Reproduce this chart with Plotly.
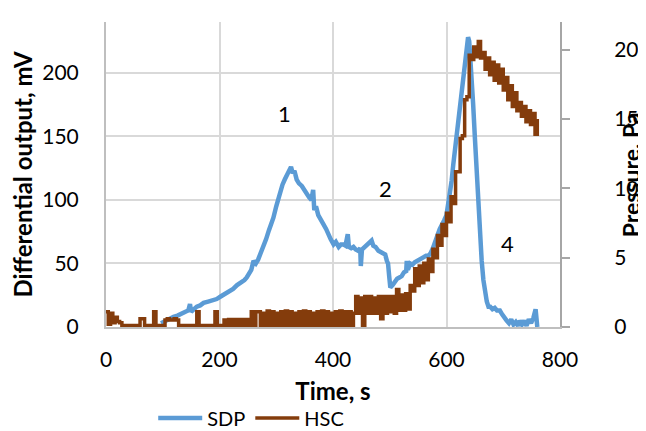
import plotly.graph_objects as go

# ---- data ----
sdp_t = [97, 105, 112, 119, 126, 133, 140, 145, 148, 150, 155, 160, 166, 172, 180, 188, 195,
         202, 210, 217, 224, 231, 238, 244, 248, 252, 256, 260, 264, 268, 272, 277, 282, 287,
         291, 295, 300, 304, 307, 311, 315, 318, 322, 326, 329, 332, 336, 340, 345, 350, 354,
         358, 362, 365, 367, 370, 374, 378, 383, 388, 392, 396, 401, 405, 410, 414, 418, 422,
         426, 428, 432, 436, 440, 444, 448, 449, 451, 456, 460, 464, 468, 471, 475, 480, 484,
         488, 492, 495, 497, 499, 501, 505, 509, 513, 517, 521, 525, 529, 530, 532, 536, 540,
         544, 548, 552, 556, 560, 564, 568, 572, 576, 580, 584, 588, 592, 596, 600, 603, 606,
         609, 612, 615, 618, 621, 624, 627, 630, 633, 636, 638, 640, 642, 644, 647, 650, 653,
         656, 659, 662, 665, 668, 671, 674, 677, 681, 685, 689, 694, 698, 702, 706, 710, 714,
         718, 722, 726, 729, 733, 737, 741, 745, 749, 753, 757, 759, 760]
sdp_mv = [3, 5, 7, 8, 9, 11, 12, 13, 18, 12, 14, 16, 17, 19, 20, 21, 22,
          24, 26, 28, 30, 33, 35, 37, 39, 42, 45, 52, 50, 53, 57, 63, 69, 76,
          81, 86, 95, 102, 107, 112, 116, 119, 122, 126, 121, 123, 116, 113, 111, 107, 105,
          102, 100, 108, 92, 95, 88, 84, 81, 77, 72, 69, 65, 67, 63, 65, 65, 64,
          73, 63, 62, 63, 61, 60, 62, 48, 61, 63, 64, 66, 68, 64, 63, 60, 59,
          57, 57, 52, 50, 40, 31, 33, 36, 38, 39, 40, 43, 44, 52, 45, 50, 49,
          51, 52, 54, 55, 55, 56, 56, 58, 62, 66, 72, 77, 80, 84, 88, 96, 105,
          115, 128, 140, 149, 162, 175, 188, 198, 209, 220, 228, 225, 212, 201, 175, 149, 122,
          97, 72, 52, 37, 28, 20, 16, 16, 14, 15, 13, 13, 10, 7, 5, 3, 6,
          2, 4, 1, 5, 2, 5, 1, 6, 3, 7, 14, 2, 0]

hsc_t = list(range(0, 761, 4))  # sample times, s
hsc_pa = [
    1.1, 0.2, 1.0, 0.3, 0.7, 0.4, 0.3, 0.1, 0.1, 0.1,            # 0-36
    0.1, 0.1, 0.1, 0.1, 0.1, 0.6, 0.6, 0.1, 0.1, 0.1,            # 40-76
    0.1, 1.1, 0.1, 0.1, 0.1, 0.1, 0.5, 0.6, 0.5, 0.5,            # 80-116
    0.6, 0.5, 0.1, 0.1, 0.1, 0.1, 0.1, 0.1, 0.1, 0.1,            # 120-156
    1.1, 0.1, 0.1, 0.1, 0.1, 0.1, 0.1, 0.1, 1.1, 0.1,            # 160-196
    0.1, 0.1, 0.5, 0.1, 0.55, 0.05, 0.55, 0.1, 0.55, 0.05,       # 200-236
    0.55, 0.1, 0.55, 0.05, 1.1, 0.1, 1.1, 1.1, 0.05, 1.0,        # 240-276
    0.1, 1.15, 0.05, 1.1, 0.1, 1.0, 0.05, 1.1, 0.1, 1.15,        # 280-316
    0.05, 1.1, 0.1, 1.0, 0.05, 1.1, 0.1, 1.15, 0.05, 1.1,        # 320-356
    0.1, 1.0, 0.05, 1.1, 0.1, 1.15, 0.05, 1.1, 0.1, 1.0,         # 360-396
    0.05, 1.1, 0.05, 1.15, 0.1, 1.1, 0.05, 1.1, 0.1, 1.0,        # 400-436
    2.2, 1.0, 2.1, 0.1, 2.2, 1.0, 2.2, 1.0, 2.1, 1.0,            # 440-476
    2.2, 0.6, 2.2, 1.0, 2.2, 1.1, 2.2, 1.0, 2.7, 1.2,            # 480-516
    2.3, 1.2, 2.4, 1.3, 3.0, 2.6, 4.2, 3.0, 4.4, 3.2,            # 520-556
    4.6, 3.4, 4.9, 4.0, 5.6, 5.0, 6.6, 5.9, 7.4, 6.6,            # 560-596
    8.2, 7.6, 9.4, 8.9, 11.2, 11.2, 13.6, 13.8, 16.4, 16.6,      # 600-636
    19.6, 19.3, 20.2, 19.5, 20.6, 19.4, 19.8, 18.6, 19.4, 18.2,  # 640-676
    19.1, 17.8, 18.9, 17.6, 18.6, 17.1, 18.0, 16.4, 17.4, 15.9,  # 680-716
    16.9, 15.6, 16.2, 15.2, 15.9, 14.8, 15.6, 14.6, 15.4, 13.9,  # 720-756
    15.0,                                                        # 760
]

x_ticks = [0, 200, 400, 600, 800]
mv_ticks = [0, 50, 100, 150, 200]
pa_ticks = [0, 5, 10, 15, 20]

labels = ["1", "2", "3", "4"]
label_x = [315, 492, 655, 707]
label_y = [168, 109, 243, 66]

BLUE = "#5B9BD5"
BROWN = "#843C0C"
GRID = "#D9D9D9"
AXIS = "#BFBFBF"

fig = go.Figure()
fig.add_trace(go.Scatter(x=sdp_t, y=sdp_mv, name="SDP", mode="lines",
                         line=dict(color=BLUE, width=4.5)))
fig.add_trace(go.Scatter(x=hsc_t, y=hsc_pa, name="HSC", mode="lines", yaxis="y2",
                         line=dict(color=BROWN, width=3.5, shape="hv")))

for t, lx, ly in zip(labels, label_x, label_y):
    fig.add_annotation(x=lx, y=ly, xref="x", yref="y", text=t, showarrow=False,
                       font=dict(size=22, color="black"))

# secondary axis title (placed as rotated text to sit outside the tick labels)
fig.add_annotation(x=1.156, y=0.5, xref="paper", yref="paper", text="<b>Pressure, Pa</b>",
                   textangle=-90, showarrow=False, xanchor="center", yanchor="middle",
                   font=dict(size=23, color="black"))

# page has an 8px body margin, so the figure is sized/offset to compensate
fig.update_layout(
    width=638, height=423,
    margin=dict(l=98, r=86, t=14, b=104, autoexpand=False),
    paper_bgcolor="white", plot_bgcolor="white",
    font=dict(family="Lato, sans-serif", size=21, color="black"),
    xaxis=dict(range=[0, 800], tickvals=x_ticks, showgrid=True, gridcolor=GRID, gridwidth=2,
               showline=True, linecolor=AXIS, linewidth=2, zeroline=False, ticks="",
               ticklabelstandoff=13,
               title=dict(text="<b>Time, s</b>", font=dict(size=24), standoff=13)),
    yaxis=dict(range=[0, 240], tickvals=mv_ticks, showgrid=True, gridcolor=GRID, gridwidth=2,
               showline=True, linecolor=AXIS, linewidth=2, zeroline=False, ticks="",
               ticklabelstandoff=21,
               title=dict(text="<b>Differential output, mV</b>", font=dict(size=24), standoff=12)),
    yaxis2=dict(range=[0, 22], tickvals=pa_ticks, overlaying="y", side="right", showgrid=False,
                showline=True, linecolor="#A6A6A6", linewidth=2, zeroline=False,
                ticks="outside", ticklen=8, tickwidth=2, tickcolor="#A6A6A6",
                ticklabelstandoff=40),
    legend=dict(orientation="h", x=0.104, xanchor="left", y=-0.298, yanchor="middle",
                font=dict(size=20), bgcolor="rgba(0,0,0,0)", itemwidth=44),
    showlegend=True,
)

fig.write_html("out.html")
